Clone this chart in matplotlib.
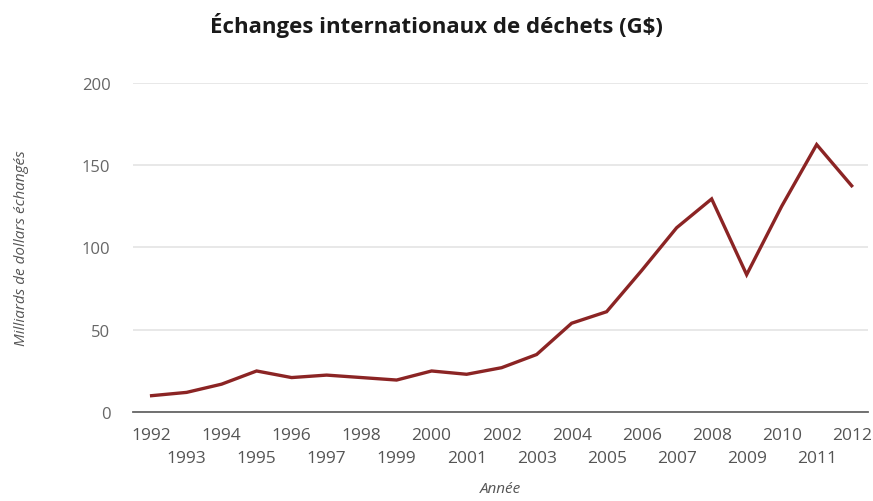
import matplotlib.pyplot as plt

years = list(range(1992, 2013))
values = [10, 12, 17, 25, 21, 22.5, 21, 19.5, 25, 23, 27, 35, 54, 61, 86, 112, 129.5, 83.5, 125, 162.5, 137.5]
y_ticks = [0, 50, 100, 150, 200]

even_years = [y for y in years if y % 2 == 0]
odd_years = [y for y in years if y % 2 == 1]

plt.rcParams['font.family'] = ['Open Sans', 'DejaVu Sans']

fig = plt.figure(figsize=(8.73, 5.02), dpi=100)
ax = fig.add_axes([0.152, 0.177, 0.842, 0.656])

ax.plot(years, values, color='#8b2424', linewidth=2.4, solid_joinstyle='miter')

ax.set_ylim(0, 200)
ax.set_xlim(1991.46, 2012.46)
ax.set_yticks(y_ticks)
ax.set_yticklabels([str(v) for v in y_ticks])
ax.grid(axis='y', color='#e2e2e2', linewidth=1.1)
ax.set_axisbelow(True)

# staggered year labels: even years on first row, odd years on second
ax.set_xticks(even_years)
ax.set_xticklabels([str(y) for y in even_years])
ax.set_xticks(odd_years, minor=True)
ax.set_xticklabels([str(y) for y in odd_years], minor=True)
ax.tick_params(axis='x', which='major', length=0, pad=11, labelsize=12.5, labelcolor='#555555')
ax.tick_params(axis='x', which='minor', length=0, pad=27, labelsize=12.5, labelcolor='#555555')
ax.tick_params(axis='y', length=0, pad=16, labelsize=12, labelcolor='#666666')

for s in ['top', 'right', 'left']:
    ax.spines[s].set_visible(False)
ax.spines['bottom'].set_color('#666666')
ax.spines['bottom'].set_linewidth(1.3)

ax.set_ylabel('Milliards de dollars échangés', fontstyle='italic', fontsize=11,
              color='#555555', labelpad=38)
fig.text(0.573, 0.024, 'Année', ha='center', va='center', fontstyle='italic',
         fontsize=11, color='#555555')

fig.text(0.5, 0.95, 'Échanges internationaux de déchets (G$)', ha='center', va='center',
         fontsize=16, fontweight='bold', color='#1a1a1a')

fig.savefig('out.png', dpi=100)
